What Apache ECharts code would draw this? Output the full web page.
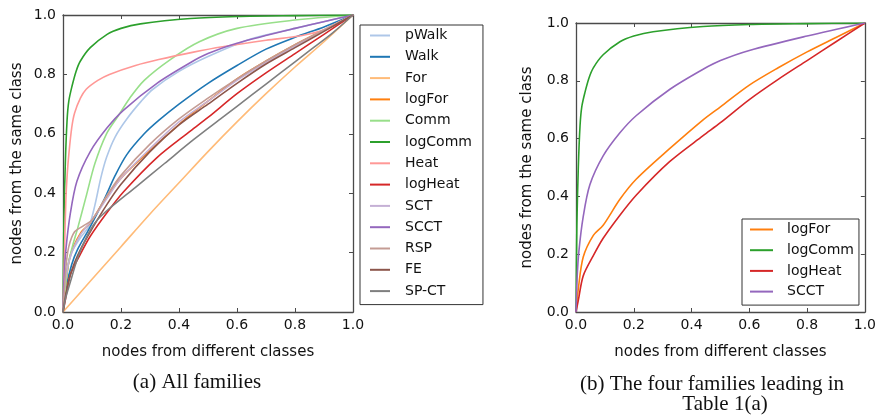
<!DOCTYPE html>
<html>
<head>
<meta charset="utf-8">
<script src="https://cdn.jsdelivr.net/npm/echarts@6/dist/echarts.min.js"></script>
<style>html,body{margin:0;padding:0;background:#fff;}#c{width:879px;height:417px;}</style>
</head>
<body>
<div id="c"></div>
<script>
// ---- data (x = nodes from different classes, y = nodes from the same class) ----
const tickLabels = ['0.0', '0.2', '0.4', '0.6', '0.8', '1.0'];
const namesA = ['pWalk','Walk','For','logFor','Comm','logComm','Heat','logHeat','SCT','SCCT','RSP','FE','SP-CT'];
const namesB = ['logFor','logComm','logHeat','SCCT'];

const pWalk = [[0,0],[0.01,0.12],[0.03,0.2],[0.06,0.25],[0.09,0.29],[0.11,0.36],[0.13,0.45],[0.15,0.52],[0.18,0.59],[0.22,0.65],[0.27,0.71],[0.31,0.75],[0.4,0.81],[0.5,0.86],[0.65,0.92],[0.8,0.955],[1,1]];
const Walk = [[0,0],[0.01,0.08],[0.03,0.16],[0.05,0.21],[0.09,0.28],[0.14,0.375],[0.18,0.46],[0.22,0.53],[0.28,0.6],[0.33,0.645],[0.4,0.7],[0.5,0.77],[0.6,0.83],[0.7,0.885],[0.8,0.925],[0.9,0.96],[1,1]];
const For = [[0,0],[0.1,0.11],[0.2,0.22],[0.3,0.33],[0.4,0.435],[0.5,0.54],[0.6,0.64],[0.7,0.735],[0.8,0.825],[0.9,0.91],[1,1]];
const logFor = [[0,0],[0.008,0.08],[0.025,0.19],[0.06,0.265],[0.094,0.3],[0.152,0.39],[0.209,0.46],[0.324,0.565],[0.44,0.665],[0.5,0.71],[0.6,0.785],[0.7,0.845],[0.8,0.9],[0.9,0.95],[1,1]];
const Comm = [[0,0],[0.01,0.1],[0.02,0.17],[0.035,0.23],[0.05,0.28],[0.08,0.39],[0.11,0.5],[0.15,0.6],[0.19,0.66],[0.23,0.72],[0.28,0.78],[0.37,0.85],[0.47,0.91],[0.6,0.955],[0.8,0.983],[1,1]];
const logComm = [[0,0],[0.003,0.3],[0.008,0.5],[0.014,0.645],[0.02,0.71],[0.031,0.76],[0.045,0.81],[0.06,0.845],[0.094,0.89],[0.152,0.935],[0.2,0.955],[0.267,0.97],[0.44,0.988],[0.6,0.995],[0.8,0.998],[1,1]];
const Heat = [[0,0],[0.005,0.2],[0.01,0.38],[0.015,0.47],[0.02,0.53],[0.03,0.62],[0.04,0.67],[0.06,0.72],[0.08,0.75],[0.12,0.78],[0.16,0.8],[0.25,0.83],[0.33,0.85],[0.45,0.875],[0.55,0.893],[0.7,0.915],[0.82,0.93],[0.9,0.95],[1,1]];
const logHeat = [[0,0],[0.008,0.04],[0.025,0.125],[0.06,0.195],[0.094,0.255],[0.152,0.335],[0.209,0.405],[0.324,0.52],[0.44,0.61],[0.5,0.655],[0.6,0.735],[0.7,0.805],[0.8,0.87],[0.9,0.935],[1,1]];
const SCT = [[0,0],[0.01,0.12],[0.03,0.2],[0.06,0.26],[0.1,0.31],[0.15,0.38],[0.2,0.45],[0.3,0.55],[0.4,0.64],[0.5,0.71],[0.6,0.78],[0.7,0.84],[0.8,0.895],[0.9,0.95],[1,1]];
const SCCT = [[0,0],[0.004,0.12],[0.01,0.21],[0.025,0.33],[0.048,0.44],[0.094,0.54],[0.152,0.62],[0.209,0.68],[0.324,0.77],[0.44,0.84],[0.5,0.87],[0.6,0.905],[0.8,0.955],[1,1]];
const RSP = [[0,0],[0.01,0.15],[0.02,0.22],[0.04,0.27],[0.07,0.29],[0.1,0.31],[0.15,0.39],[0.2,0.46],[0.3,0.565],[0.4,0.65],[0.5,0.72],[0.6,0.785],[0.7,0.845],[0.8,0.9],[0.9,0.95],[1,1]];
const FE = [[0,0],[0.01,0.06],[0.03,0.14],[0.06,0.21],[0.1,0.28],[0.15,0.36],[0.2,0.43],[0.3,0.54],[0.4,0.63],[0.5,0.7],[0.6,0.77],[0.7,0.835],[0.8,0.89],[0.9,0.945],[1,1]];
const SPCT = [[0,0],[0.01,0.05],[0.025,0.1],[0.05,0.18],[0.08,0.25],[0.11,0.3],[0.15,0.34],[0.25,0.42],[0.35,0.5],[0.45,0.58],[0.55,0.655],[0.65,0.73],[0.75,0.805],[0.85,0.88],[0.93,0.94],[1,1]];

const seriesData = {pWalk, Walk, For, logFor, Comm, logComm, Heat, logHeat, SCT, SCCT, RSP, FE, 'SP-CT': SPCT};
const colors = {pWalk:'#aec7e8', Walk:'#1f77b4', For:'#ffbb78', logFor:'#ff7f0e', Comm:'#98df8a', logComm:'#2ca02c',
  Heat:'#ff9896', logHeat:'#d62728', SCT:'#c5b0d5', SCCT:'#9467bd', RSP:'#c49c94', FE:'#8c564b', 'SP-CT':'#7f7f7f'};

const FONT = 'DejaVu Sans';
const TXT = '#111';
const frame = '#4a4a4a';
function xAx(grid, pos, show) {
  return {type:'value', gridIndex:grid, position:pos, min:0, max:1, interval:0.2,
    splitLine:{show:false},
    axisLine:{show:true, onZero:false, lineStyle:{color:frame, width:1.3}},
    axisTick:{show:true, inside:true, length:4, lineStyle:{color:frame}},
    axisLabel:{show:show, margin:6, fontFamily:FONT, fontSize:14, color:TXT,
      formatter:(v)=>tickLabels[Math.round(v*5)]},
    name: show ? 'nodes from different classes' : '', nameLocation:'middle', nameGap:33,
    nameTextStyle:{fontFamily:FONT, fontSize:15, color:TXT}};
}
function yAx(grid, pos, show, gap) {
  return {type:'value', gridIndex:grid, position:pos, min:0, max:1, interval:0.2,
    splitLine:{show:false},
    axisLine:{show:true, onZero:false, lineStyle:{color:frame, width:1.3}},
    axisTick:{show:true, inside:true, length:4, lineStyle:{color:frame}},
    axisLabel:{show:show, margin:7, fontFamily:FONT, fontSize:14, color:TXT,
      formatter:(v)=>tickLabels[Math.round(v*5)]},
    name: show ? 'nodes from the same class' : '', nameLocation:'middle', nameGap:gap, nameRotate:90,
    nameTextStyle:{fontFamily:FONT, fontSize:15, color:TXT}};
}
const series = [];
function mk(n, ax) {
  return {name:n, type:'line', xAxisIndex:ax, yAxisIndex:ax, data:seriesData[n],
    showSymbol:false, symbol:'none', smooth:0.3, lineStyle:{width:1.6, color:colors[n]},
    itemStyle:{color:colors[n]}, silent:true, animation:false};
}
namesA.forEach(n => series.push(mk(n, 0)));
namesB.forEach(n => series.push(mk(n, 2)));

const chart = echarts.init(document.getElementById('c'), null, {renderer:'canvas'});
chart.setOption({
  animation:false,
  backgroundColor:'#fff',
  grid:[{left:63, top:15, width:290, height:297}, {left:576, top:23, width:290, height:289}],
  xAxis:[xAx(0,'bottom',true), xAx(0,'top',false), xAx(1,'bottom',true), xAx(1,'top',false)],
  yAxis:[yAx(0,'left',true,38), yAx(0,'right',false,0), yAx(1,'left',true,41), yAx(1,'right',false,0)],
  legend:[
    {data:namesA, orient:'vertical', left:360, top:25, icon:'rect', itemWidth:20, itemHeight:2, itemGap:6.3,
     padding:[3,11,6,10], borderColor:'#333', borderWidth:1, selectedMode:false,
     textStyle:{fontFamily:FONT, fontSize:14, color:TXT, lineHeight:15, padding:[0,0,0,10]}},
    {data:namesB, orient:'vertical', left:742, top:219, icon:'rect', itemWidth:23, itemHeight:2, itemGap:5.7,
     padding:[3,5,6,8], borderColor:'#333', borderWidth:1, selectedMode:false,
     textStyle:{fontFamily:FONT, fontSize:14, color:TXT, lineHeight:15, padding:[0,0,0,9]}}
  ],
  graphic:[
    {type:'text', silent:true, style:{text:'(a) All families', x:197, y:382, font:'21px "Liberation Serif"', fill:'#111', align:'center', verticalAlign:'middle'}},
    {type:'text', silent:true, style:{text:'(b) The four families leading in', x:712, y:384, font:'21px "Liberation Serif"', fill:'#111', align:'center', verticalAlign:'middle'}},
    {type:'text', silent:true, style:{text:'Table 1(a)', x:725, y:404, font:'21px "Liberation Serif"', fill:'#111', align:'center', verticalAlign:'middle'}}
  ],
  series
});
</script>
</body>
</html>
